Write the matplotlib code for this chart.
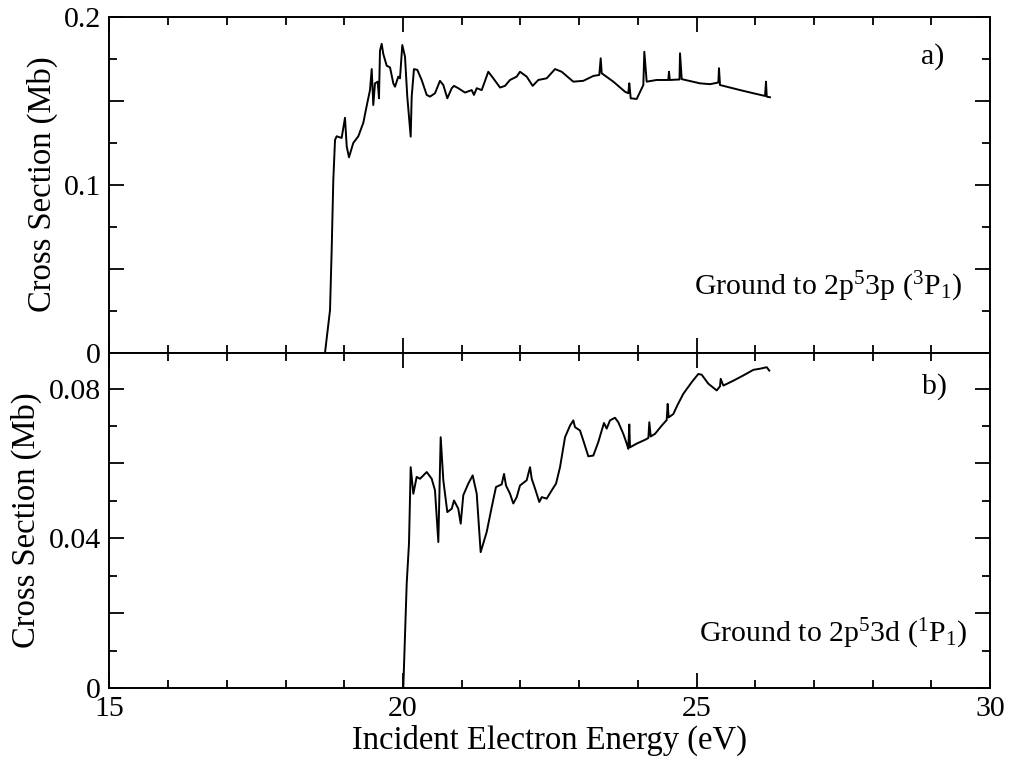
import matplotlib
matplotlib.use("Agg")
import matplotlib.pyplot as plt
from matplotlib.ticker import MultipleLocator, FixedLocator, FixedFormatter

plt.rcParams['font.family'] = ['Liberation Serif', 'DejaVu Serif']
plt.rcParams['mathtext.fontset'] = 'custom'
plt.rcParams['mathtext.rm'] = 'Liberation Serif'
plt.rcParams['mathtext.it'] = 'Liberation Serif:italic'

# panel a) ground -> 2p5 3p (3P1)
energy_3p = [18.671, 18.757, 18.785, 18.813, 18.842, 18.870, 18.955, 19.012, 19.041, 19.080,
             19.153, 19.239, 19.324, 19.381, 19.438, 19.467, 19.494, 19.523, 19.569, 19.591,
             19.608, 19.637, 19.664, 19.722, 19.779, 19.835, 19.864, 19.920, 19.949, 19.988,
             20.034, 20.073, 20.131, 20.148, 20.187, 20.244, 20.318, 20.404, 20.460, 20.545,
             20.630, 20.687, 20.755, 20.830, 20.869, 20.942, 21.056, 21.170, 21.209, 21.256,
             21.341, 21.453, 21.538, 21.653, 21.738, 21.823, 21.937, 21.993, 22.107, 22.209,
             22.305, 22.448, 22.590, 22.703, 22.901, 23.072, 23.242, 23.344, 23.368, 23.385,
             23.583, 23.782, 23.838, 23.855, 23.879, 23.981, 24.094, 24.111, 24.151, 24.320,
             24.520, 24.531, 24.545, 24.710, 24.719, 24.748, 25.060, 25.230, 25.372, 25.383,
             25.400, 25.571, 25.741, 25.968, 26.167, 26.184, 26.196, 26.252]
sigma_3p = [0.0, 0.0256, 0.0613, 0.103, 0.1268, 0.129, 0.128, 0.140, 0.123, 0.1165,
            0.125, 0.129, 0.137, 0.147, 0.1565, 0.169, 0.1476, 0.1605, 0.1615, 0.1516,
            0.180, 0.184, 0.178, 0.171, 0.170, 0.1605, 0.1585, 0.1645, 0.1635, 0.1833,
            0.1764, 0.1526, 0.1288, 0.1526, 0.169, 0.1685, 0.1625, 0.1536, 0.1526, 0.1546,
            0.162, 0.1595, 0.1516, 0.1576, 0.159, 0.1576, 0.155, 0.1565, 0.1536, 0.1576,
            0.1565, 0.1674, 0.1635, 0.158, 0.159, 0.1625, 0.1645, 0.1674, 0.1645, 0.159,
            0.1625, 0.1635, 0.169, 0.1674, 0.1615, 0.162, 0.1649, 0.1655, 0.1754, 0.1665,
            0.1615, 0.1555, 0.1546, 0.1605, 0.1516, 0.1512, 0.1595, 0.1793, 0.1615, 0.1625,
            0.1625, 0.1674, 0.1625, 0.1628, 0.1784, 0.163, 0.1605, 0.160, 0.161, 0.1695,
            0.1595, 0.158, 0.1565, 0.1546, 0.153, 0.1615, 0.1526, 0.1522]

# panel b) ground -> 2p5 3d (1P1)
energy_3d = [20.005, 20.063, 20.102, 20.131, 20.176, 20.233, 20.290, 20.404, 20.489, 20.545,
             20.602, 20.642, 20.687, 20.755, 20.830, 20.869, 20.942, 20.983, 21.027, 21.112,
             21.187, 21.256, 21.323, 21.426, 21.511, 21.584, 21.681, 21.721, 21.755, 21.823,
             21.879, 21.937, 21.993, 22.107, 22.164, 22.193, 22.249, 22.322, 22.363, 22.448,
             22.533, 22.607, 22.675, 22.760, 22.845, 22.901, 22.930, 23.015, 23.072, 23.157,
             23.242, 23.327, 23.385, 23.424, 23.470, 23.526, 23.611, 23.668, 23.753, 23.811,
             23.838, 23.855, 23.867, 23.981, 24.122, 24.180, 24.196, 24.220, 24.293, 24.407,
             24.492, 24.509, 24.526, 24.605, 24.673, 24.775, 24.918, 25.031, 25.088, 25.201,
             25.344, 25.400, 25.412, 25.457, 25.627, 25.797, 25.968, 26.082, 26.196, 26.240]
sigma_3d = [0.0, 0.0279, 0.0386, 0.0590, 0.0519, 0.0564, 0.0559, 0.0577, 0.0559, 0.0528,
            0.0390, 0.0670, 0.0555, 0.0470, 0.0479, 0.0501, 0.0479, 0.0439, 0.0515, 0.0546,
            0.0568, 0.0519, 0.0363, 0.0417, 0.0483, 0.0537, 0.0544, 0.0572, 0.0541, 0.0519,
            0.0493, 0.0510, 0.0541, 0.0555, 0.0590, 0.0559, 0.0533, 0.0497, 0.0510, 0.0506,
            0.0528, 0.0546, 0.0590, 0.0670, 0.0701, 0.0715, 0.0697, 0.0688, 0.0661, 0.0619,
            0.0621, 0.0657, 0.0688, 0.0708, 0.0693, 0.0715, 0.0722, 0.0710, 0.0679, 0.0653,
            0.0639, 0.0704, 0.0643, 0.0653, 0.0663, 0.0668, 0.0710, 0.0672, 0.0679, 0.0701,
            0.0716, 0.0759, 0.0723, 0.0732, 0.0755, 0.0786, 0.0817, 0.0839, 0.0837, 0.0813,
            0.0795, 0.0806, 0.0826, 0.0808, 0.0821, 0.0835, 0.0850, 0.0853, 0.0857, 0.0848]

fig = plt.figure(figsize=(10.09, 7.58), dpi=100)
ax1 = fig.add_axes([0.1085, 0.5343, 0.8727, 0.4433])
ax2 = fig.add_axes([0.1085, 0.0923, 0.8727, 0.4420])

ax1.plot(energy_3p, sigma_3p, color='black', lw=1.4)
ax2.plot(energy_3d, sigma_3d, color='black', lw=1.4)

for ax in (ax1, ax2):
    ax.set_xlim(15, 30)
    ax.xaxis.set_major_locator(MultipleLocator(5))
    ax.xaxis.set_minor_locator(MultipleLocator(1))
    ax.tick_params(which='both', direction='in', top=True, right=True,
                   labelsize=21.5, width=1.3)
    ax.tick_params(which='major', length=11, pad=6)
    ax.tick_params(which='minor', length=5.5)
    for s in ax.spines.values():
        s.set_linewidth(1.4)

ax1.set_ylim(0, 0.2)
ax1.yaxis.set_major_locator(FixedLocator([0, 0.05, 0.1, 0.15, 0.2]))
ax1.yaxis.set_major_formatter(FixedFormatter(['0', '', '0.1', '', '0.2']))
ax1.yaxis.set_minor_locator(MultipleLocator(0.025))
ax1.tick_params(labelbottom=False)

ax2.set_ylim(0, 0.0895)
ax2.yaxis.set_major_locator(FixedLocator([0, 0.02, 0.04, 0.06, 0.08]))
ax2.yaxis.set_major_formatter(FixedFormatter(['0', '', '0.04', '', '0.08']))
ax2.yaxis.set_minor_locator(MultipleLocator(0.01))
ax2.set_xlabel('Incident Electron Energy (eV)', fontsize=23.5, labelpad=2)

fig.text(42 / 1009, 1 - 184 / 758, 'Cross Section (Mb)', rotation=90,
         ha='center', va='center', fontsize=23.5)
fig.text(26 / 1009, 1 - 520 / 758, 'Cross Section (Mb)', rotation=90,
         ha='center', va='center', fontsize=23.5)

ax1.text(0.935, 0.881, 'a)', transform=ax1.transAxes, ha='center', va='center', fontsize=21.5)
ax2.text(0.9375, 0.899, 'b)', transform=ax2.transAxes, ha='center', va='center', fontsize=21.5)
ax1.text(0.968, 0.1726, r'Ground to 2p$^{5}$3p ($^{3}$P$_{1}$)', transform=ax1.transAxes,
         ha='right', va='baseline', fontsize=21.5)
ax2.text(0.974, 0.138, r'Ground to 2p$^{5}$3d ($^{1}$P$_{1}$)', transform=ax2.transAxes,
         ha='right', va='baseline', fontsize=21.5)

fig.savefig('out.png', dpi=100)
